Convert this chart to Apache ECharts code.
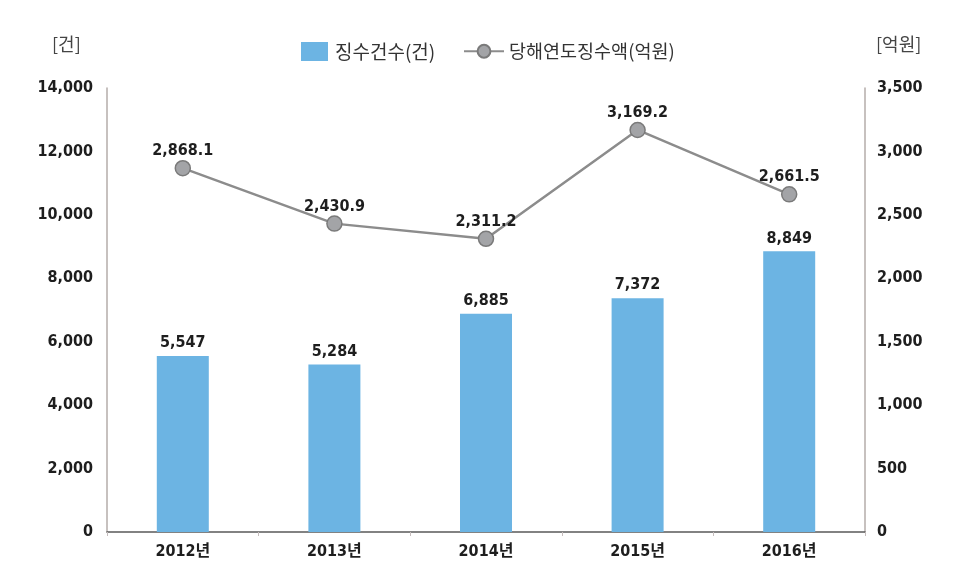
<!DOCTYPE html>
<html>
<head>
<meta charset="utf-8">
<script src="https://cdn.jsdelivr.net/npm/echarts@6/dist/echarts.min.js"></script>
<style>
    html, body { margin: 0; padding: 0; background: #fff; }
    #chart { width: 976px; height: 578px; }
</style>
</head>
<body>
<div id="chart"></div>
<script>
    // 데이터
    var years = ['2012년', '2013년', '2014년', '2015년', '2016년'];
    var countValues = [5547, 5284, 6885, 7372, 8849];          // 징수건수(건)
    var amountValues = [2868.1, 2430.9, 2311.2, 3169.2, 2661.5]; // 당해연도징수액(억원)

    var FONT = '"DejaVu Sans Condensed", "Noto Sans CJK KR", sans-serif';
    var KFONT = '"Noto Sans CJK KR", sans-serif';

    function fmt(v, digits) {
        return Number(v).toLocaleString('en-US', {minimumFractionDigits: digits, maximumFractionDigits: digits});
    }

    var labelStyle = { color: '#1e1e1e', fontSize: 16, fontWeight: 'bold', fontFamily: FONT };

    var chart = echarts.init(document.getElementById('chart'));
    chart.setOption({
        backgroundColor: '#fff',
        textStyle: { fontFamily: FONT },
        grid: { left: 107, right: 111, top: 88, bottom: 46 },
        // 범례 두 개로 나눠서 아이콘 크기 따로
        legend: [{
            top: 37,
            left: 296,
            itemWidth: 27,
            itemHeight: 19,
            textStyle: { fontSize: 19, color: '#333', fontFamily: KFONT, padding: [0, 0, 0, 2] },
            data: [{ name: '징수건수(건)', icon: 'rect' }]
        }, {
            top: 37,
            left: 458,
            itemWidth: 40,
            itemHeight: 16,
            textStyle: { fontSize: 18.5, color: '#333', fontFamily: KFONT, padding: [0, 0, 0, 0] },
            data: [{ name: '당해연도징수액(억원)' }]
        }],
        graphic: [
            { type: 'text', left: 52, top: 35, style: { text: '[건]', fontSize: 18, fill: '#444', fontFamily: KFONT } },
            { type: 'text', left: 876, top: 35, style: { text: '[억원]', fontSize: 18, fill: '#444', fontFamily: KFONT } }
        ],
        xAxis: {
            type: 'category',
            data: years,
            axisLine: { lineStyle: { color: '#5a5a5a', width: 1.5 } },
            axisTick: { show: true, length: 4, lineStyle: { color: '#c4bcbc' } },
            axisLabel: Object.assign({ margin: 12 }, labelStyle)
        },
        yAxis: [{
            type: 'value',
            min: 0, max: 14000, interval: 2000,
            axisLine: { show: true, lineStyle: { color: '#b5acaa', width: 1.5 } },
            axisTick: { show: false },
            splitLine: { show: false },
            axisLabel: Object.assign({
                margin: 14,
                formatter: function (v) { return fmt(v, 0); }
            }, labelStyle)
        }, {
            type: 'value',
            min: 0, max: 3500, interval: 500,
            axisLine: { show: true, lineStyle: { color: '#b5acaa', width: 1.5 } },
            axisTick: { show: false },
            splitLine: { show: false },
            axisLabel: Object.assign({
                margin: 12,
                formatter: function (v) { return fmt(v, 0); }
            }, labelStyle)
        }],
        series: [{
            name: '징수건수(건)',
            type: 'bar',
            yAxisIndex: 0,
            data: countValues,
            barWidth: 52,
            itemStyle: { color: '#6cb4e3' },
            label: Object.assign({
                show: true, position: 'top', distance: 5,
                formatter: function (p) { return fmt(p.value, 0); }
            }, labelStyle)
        }, {
            name: '당해연도징수액(억원)',
            type: 'line',
            yAxisIndex: 1,
            data: amountValues,
            symbol: 'circle',
            symbolSize: 15,
            lineStyle: { color: '#8c8c8c', width: 2.5 },
            itemStyle: { color: '#a3a4a7', borderColor: '#7a7a7a', borderWidth: 1.5 },
            label: Object.assign({
                show: true, position: 'top', distance: 1,
                formatter: function (p) { return fmt(p.value, 1); }
            }, labelStyle)
        }]
    });
</script>
</body>
</html>
